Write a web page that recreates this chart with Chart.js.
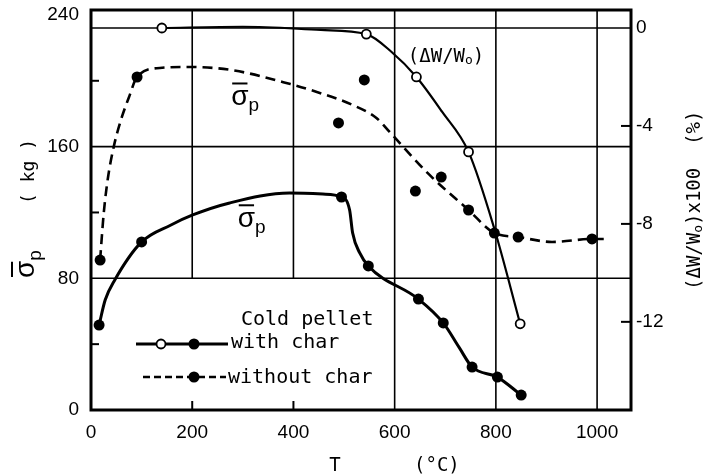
<!DOCTYPE html>
<html><head><meta charset="utf-8">
<script src="https://cdn.jsdelivr.net/npm/chart.js@4.4.1/dist/chart.umd.min.js"></script>
<style>html,body{margin:0;padding:0;background:#fff}#wrap{width:704px;height:476px}</style>
</head><body><div id="wrap"><canvas id="c" width="704" height="476"></canvas></div>
<script>
// ---- tick labels ----
const T_TICKS = [0, 200, 400, 600, 800, 1000];
const SIGMA_TICKS = [0, 80, 160, 240];
const DW_TICKS = [0, -4, -8, -12];
const SIGMA_MINOR = [40, 120, 200];
const T_MINOR = [200, 400];
const GRID_SIGMA = [80, 160];
const GRID_DW = [0];
const GRID_T_FULL = [600, 800, 1000];
const GRID_T_UPPER = [200, 400];

// ---- Cold pellet with char : sigma_p (kg) ----
const withCharT     = [16, 100, 495, 548, 647, 696, 753, 803, 850];
const withCharSigma = [51.6, 102.1, 129.4, 87.5, 67.4, 52.9, 26.1, 20.0, 9.1];
const withCharCurveT     = [16, 28, 47, 100, 158, 201, 274, 392, 458, 495, 511, 517, 531, 548, 647, 696, 728, 753, 803, 850];
const withCharCurveSigma = [51.6, 66.8, 79.0, 102.1, 112.4, 118.5, 125.8, 131.8, 131.2, 129.4, 121.5, 107.5, 95.4, 87.5, 67.4, 52.9, 37.7, 26.1, 20.0, 9.1];

// ---- Cold pellet without char : sigma_p (kg) ----
const withoutCharT     = [18, 91, 489, 540, 641, 692, 746, 797, 844, 990];
const withoutCharSigma = [91.1, 202.3, 174.4, 200.5, 133.0, 141.5, 121.5, 107.5, 105.1, 103.9];
const withoutCurveT     = [18, 25, 33, 45, 60, 75, 91, 136, 191, 276, 394, 452, 517, 564, 590, 669, 746, 797, 844, 911, 990, 1018];
const withoutCurveSigma = [91.1, 119, 140, 160, 177, 190, 202.3, 207.8, 208.4, 206.6, 198.0, 192.6, 185.3, 177.4, 168.9, 142.8, 121.5, 107.5, 105.1, 102.1, 103.9, 103.9];

// ---- (dW/W0) x 100 (%) with char ----
const dwT = [140, 544, 643, 746, 848];
const dwVal = [0, -0.25, -2.0, -5.06, -12.08];
const dwCurveT   = [140, 300, 454, 544, 594, 643, 694, 746, 797, 848];
const dwCurveVal = [0, 0.05, -0.08, -0.25, -0.98, -2.0, -3.43, -5.06, -8.2, -12.08];

const pts = (xs, ys) => xs.map((x, i) => ({x, y: ys[i]}));
const SANS = '"Liberation Sans", Arial, sans-serif';
const MONO = '"DejaVu Sans Mono", monospace';

function drawSegs(ctx, x, y, rot, segs) {
  ctx.save();
  ctx.translate(x, y);
  ctx.rotate(rot);
  ctx.fillStyle = '#000';
  ctx.strokeStyle = '#000';
  ctx.textBaseline = 'alphabetic';
  ctx.textAlign = 'left';
  let cur = 0;
  for (const s of segs) {
    if (s.at !== undefined) cur = s.at;
    ctx.font = s.font;
    const w = ctx.measureText(s.text).width;
    const dy = s.dy || 0;
    ctx.fillText(s.text, cur, dy);
    if (s.bar) {
      ctx.lineWidth = 2;
      ctx.beginPath();
      ctx.moveTo(cur + 1, dy - s.bar);
      ctx.lineTo(cur + w - 1, dy - s.bar);
      ctx.stroke();
    }
    cur += w;
  }
  ctx.restore();
}

function seg(ctx, x1, y1, x2, y2) {
  ctx.beginPath(); ctx.moveTo(x1, y1); ctx.lineTo(x2, y2); ctx.stroke();
}

const decor = {
  id: 'decor',
  beforeDatasetsDraw(chart) {
    const {ctx, chartArea: ca, scales: {x, y, y2}} = chart;
    ctx.save();
    ctx.strokeStyle = '#000';
    ctx.lineWidth = 1.6;
    GRID_SIGMA.forEach(v => { const p = y.getPixelForValue(v); seg(ctx, ca.left, p, ca.right, p); });
    GRID_DW.forEach(v => { const p = y2.getPixelForValue(v); seg(ctx, ca.left, p, ca.right, p); });
    GRID_T_FULL.forEach(v => { const p = x.getPixelForValue(v); seg(ctx, p, ca.top, p, ca.bottom); });
    const stop = y.getPixelForValue(80);
    GRID_T_UPPER.forEach(v => { const p = x.getPixelForValue(v); seg(ctx, p, ca.top, p, stop); });
    ctx.lineWidth = 2;
    SIGMA_MINOR.forEach(v => { const p = y.getPixelForValue(v); seg(ctx, ca.left, p, ca.left + 8, p); });
    T_MINOR.forEach(v => { const p = x.getPixelForValue(v); seg(ctx, p, ca.bottom, p, ca.bottom - 9); });
    DW_TICKS.filter(v => v !== 0).forEach(v => { const p = y2.getPixelForValue(v); seg(ctx, ca.right, p, ca.right - 10, p); });
    ctx.restore();
  },
  afterDatasetsDraw(chart) {
    const {ctx, chartArea: ca, scales: {x, y}} = chart;
    ctx.save();
    ctx.strokeStyle = '#000';
    ctx.lineWidth = 3;
    ctx.strokeRect(ca.left, ca.top, ca.right - ca.left, ca.bottom - ca.top);

    // in-plot labels (anchored in data units)
    const sig = () => [
      {text: 'σ', font: '28px ' + SANS, bar: 22},
      {text: 'p', font: '19px ' + SANS, dy: 6}
    ];
    drawSegs(ctx, x.getPixelForValue(277), y.getPixelForValue(185), 0, sig());
    drawSegs(ctx, x.getPixelForValue(290), y.getPixelForValue(111), 0, sig());
    drawSegs(ctx, x.getPixelForValue(626), y.getPixelForValue(211.4), 0, [
      {text: '(ΔW/W', font: '19px ' + MONO},
      {text: 'o', font: '13px ' + MONO, dy: 2},
      {text: ')', font: '19px ' + MONO}
    ]);

    // legend
    const L = ca.left, B = ca.bottom;
    ctx.fillStyle = '#000';
    ctx.font = '20px ' + MONO;
    ctx.textBaseline = 'alphabetic';
    ctx.fillText('Cold pellet', L + 150, B - 85);
    ctx.fillText('with char', L + 140, B - 62);
    ctx.fillText('without char', L + 137, B - 27);
    ctx.lineWidth = 3;
    seg(ctx, L + 45, B - 66, L + 137, B - 66);
    ctx.setLineDash([7, 4]);
    ctx.lineWidth = 2.5;
    seg(ctx, L + 52, B - 33, L + 135, B - 33);
    ctx.setLineDash([]);
    ctx.lineWidth = 1.8;
    ctx.beginPath(); ctx.arc(L + 70, B - 66, 4.5, 0, Math.PI * 2); ctx.fillStyle = '#fff'; ctx.fill(); ctx.stroke();
    ctx.fillStyle = '#000';
    ctx.beginPath(); ctx.arc(L + 103, B - 66, 5.5, 0, Math.PI * 2); ctx.fill();
    ctx.beginPath(); ctx.arc(L + 103, B - 33, 5.5, 0, Math.PI * 2); ctx.fill();

    // axis titles
    ctx.font = '19px ' + MONO;
    ctx.textAlign = 'center';
    ctx.fillText('T', 335, 471);
    ctx.textAlign = 'left';
    ctx.fillText('(°C)', 414, 471);

    drawSegs(ctx, 34, 278, -Math.PI / 2, [
      {text: 'σ', font: '28px ' + SANS, bar: 22},
      {text: 'p', font: '19px ' + SANS, dy: 7},
      {text: '( kg )', font: '18px ' + MONO, at: 74}
    ]);
    drawSegs(ctx, 700, 290, -Math.PI / 2, [
      {text: '(ΔW/W', font: '19px ' + MONO},
      {text: 'o', font: '13px ' + MONO, dy: 2},
      {text: ')x100  (%)', font: '19px ' + MONO}
    ]);
    ctx.restore();
  }
};

const fitY = w => s => { s.width = w; s.paddingTop = 10; s.paddingBottom = 0; };

new Chart(document.getElementById('c'), {
  type: 'line',
  data: {
    datasets: [
      {label: 'without char', data: pts(withoutCharT, withoutCharSigma), yAxisID: 'y', showLine: false,
       pointRadius: 5.5, pointBackgroundColor: '#000', pointBorderWidth: 0},
      {label: 'with char', data: pts(withCharT, withCharSigma), yAxisID: 'y', showLine: false,
       pointRadius: 5.5, pointBackgroundColor: '#000', pointBorderWidth: 0},
      {label: 'dW/W0', data: pts(dwT, dwVal), yAxisID: 'y2', showLine: false,
       pointRadius: 4.5, pointBackgroundColor: '#fff', pointBorderColor: '#000', pointBorderWidth: 1.8},
      {label: 'with char curve', data: pts(withCharCurveT, withCharCurveSigma), yAxisID: 'y',
       borderColor: '#000', borderWidth: 3, pointRadius: 0, cubicInterpolationMode: 'monotone'},
      {label: 'without char curve', data: pts(withoutCurveT, withoutCurveSigma), yAxisID: 'y',
       borderColor: '#000', borderWidth: 2.6, borderDash: [10, 6], pointRadius: 0, cubicInterpolationMode: 'monotone'},
      {label: 'dW curve', data: pts(dwCurveT, dwCurveVal), yAxisID: 'y2',
       borderColor: '#000', borderWidth: 2.2, pointRadius: 0, cubicInterpolationMode: 'monotone'}
    ]
  },
  options: {
    responsive: false,
    animation: false,
    devicePixelRatio: 1,
    layout: {padding: 0},
    plugins: {legend: {display: false}, tooltip: {enabled: false}},
    scales: {
      x: {
        type: 'linear', position: 'bottom', min: 0, max: 1067,
        afterBuildTicks: s => { s.ticks = T_TICKS.map(v => ({value: v})); },
        afterFit: s => { s.height = 66; s.paddingLeft = 0; s.paddingRight = 0; },
        grid: {display: false, drawTicks: false}, border: {display: false},
        ticks: {color: '#000', font: {family: SANS, size: 19}, padding: 11, maxRotation: 0, autoSkip: false,
                callback: v => String(v)}
      },
      y: {
        type: 'linear', position: 'left', min: 0, max: 243,
        afterBuildTicks: s => { s.ticks = SIGMA_TICKS.map(v => ({value: v})); },
        afterFit: fitY(91),
        grid: {display: false, drawTicks: false}, border: {display: false},
        ticks: {color: '#000', font: {family: SANS, size: 19}, padding: 12, callback: v => String(v)}
      },
      y2: {
        type: 'linear', position: 'right', min: -15.6, max: 0.735,
        afterBuildTicks: s => { s.ticks = DW_TICKS.map(v => ({value: v})); },
        afterFit: fitY(73),
        grid: {display: false, drawTicks: false}, border: {display: false},
        ticks: {color: '#000', font: {family: SANS, size: 19}, padding: 5, callback: v => String(v)}
      }
    }
  },
  plugins: [decor]
});
</script></body></html>
